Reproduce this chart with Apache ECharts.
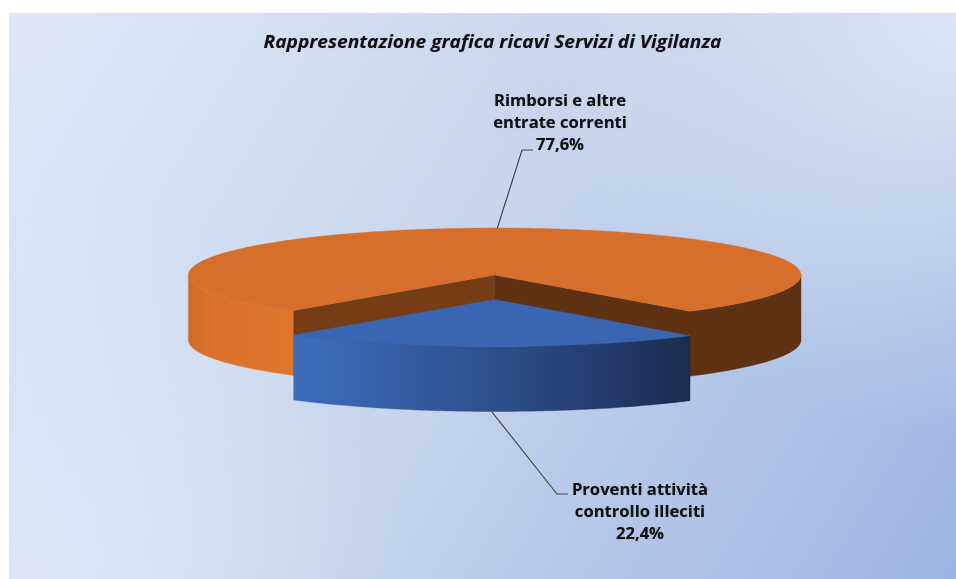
<!DOCTYPE html>
<html><head><meta charset="utf-8">
<style>html,body{margin:0;padding:0;background:#fff}#c{width:956px;height:579px}</style>
<script src="https://cdn.jsdelivr.net/npm/echarts@6/dist/echarts.min.js"></script>
</head><body><div id="c"></div>
<script>
const titleText = 'Rappresentazione grafica ricavi Servizi di Vigilanza';
const categories = ['Rimborsi e altre\nentrate correnti', 'Proventi attività\ncontrollo illeciti'];
const values = [77.6, 22.4];

const FONT = '"Open Sans", "Noto Sans", sans-serif';
const C = {x: 494.7, y: 275, rx: 306.3, ry: 47, depth: 65, explode: 24.5, rot: 0.7};
const total = values.reduce((a, b) => a + b, 0);
const blueSpan = values[1] / total * 360;
const blueStart = 90 + C.rot - blueSpan / 2;   // screen angle, clockwise from +x
const blueEnd = blueStart + blueSpan;
const pt = (a, oy) => [C.x + C.rx * Math.cos(a * Math.PI / 180),
                       C.y + (oy || 0) + C.ry * Math.sin(a * Math.PI / 180)];
function arc(a0, a1, oy) {
  const n = Math.max(2, Math.ceil(Math.abs(a1 - a0) * 1.5)), out = [];
  for (let i = 0; i <= n; i++) out.push(pt(a0 + (a1 - a0) * i / n, oy));
  return out;
}
const grad = (x0, x1, stops) => ({type: 'linear', x: x0, y: 0, x2: x1, y2: 0, global: true,
  colorStops: stops.map(s => ({offset: s[0], color: s[1]}))});
const poly = (points, fill, z) => ({type: 'polygon', shape: {points}, z2: z,
  style: {fill, stroke: fill, lineWidth: 0.4}});
const line = (points, z) => ({type: 'polyline', shape: {points}, z2: z,
  style: {stroke: '#474747', lineWidth: 1.2, fill: null}});
const pct = v => v.toFixed(1).replace('.', ',') + '%';
const label = (text, x, y) => ({type: 'text', z2: 50, style: {
  text, x, y, align: 'center', verticalAlign: 'middle', lineHeight: 22,
  font: 'bold 16.6px ' + FONT, fill: '#111',
  textShadowColor: 'rgba(0,0,0,0.35)', textShadowBlur: 1}});

function renderItem(params, api) {
  const i = params.dataIndex, children = [];
  if (i === 0) {
    const d = C.depth, apex = [C.x, C.y], L = pt(blueEnd), R = pt(blueStart);
    children.push(poly(arc(blueEnd, 180, 0).concat(arc(180, blueEnd, d)), grad(188, 294,
      [[0, '#cf6b29'], [0.25, '#dc722b'], [1, '#e1762d']]), 1));
    children.push(poly(arc(0, blueStart, 0).concat(arc(blueStart, 0, d)), '#5e3112', 1));
    children.push(poly([apex, L, [L[0], L[1] + d], [apex[0], apex[1] + d]], '#763c16', 2));
    children.push(poly([apex, R, [R[0], R[1] + d], [apex[0], apex[1] + d]], '#5e3112', 2));
    children.push(poly([apex].concat(arc(blueEnd, 360 + blueStart, 0)), '#d56f2b', 3));
    children.push(line([pt(270 + 0.5), [522, 150], [533, 150]], 40));
    children.push(label(categories[0] + '\n' + pct(values[0]), 560, 123));
  } else {
    const o = C.explode, d = C.depth;
    children.push(poly(arc(blueStart, blueEnd, o).concat(arc(blueEnd, blueStart, o + d)), grad(293, 691,
      [[0, '#3e6dbc'], [0.5, '#2d4f8d'], [1, '#1a2c50']]), 5));
    children.push(poly([[C.x, C.y + o]].concat(arc(blueStart, blueEnd, o)), '#3a66b1', 6));
    children.push(line([pt(90.6, o + d), [557, 494], [568, 494]], 40));
    children.push(label(categories[1] + '\n' + pct(values[1]), 640, 512));
  }
  return {type: 'group', children};
}

const chart = echarts.init(document.getElementById('c'), null, {renderer: 'canvas'});
const panel = {x: 9, y: 13, width: 947, height: 566};
chart.setOption({
  animation: false,
  graphic: [
    {type: 'rect', z: -3, shape: panel, style: {fill: {type: 'linear', x: 0, y: 0, x2: 1, y2: 1,
      colorStops: [{offset: 0, color: '#e0e8f6'}, {offset: 0.5, color: '#c6d4ed'}, {offset: 1, color: '#9bb5e2'}]}}},
    {type: 'rect', z: -2, shape: panel, style: {fill: {type: 'radial', x: 956, y: 13, r: 420, global: true,
      colorStops: [{offset: 0, color: 'rgba(224,232,246,0.9)'}, {offset: 1, color: 'rgba(224,232,246,0)'}]}}},
    {type: 'rect', z: -2, shape: panel, style: {fill: {type: 'radial', x: 9, y: 579, r: 400, global: true,
      colorStops: [{offset: 0, color: 'rgba(224,232,246,0.9)'}, {offset: 1, color: 'rgba(224,232,246,0)'}]}}},
    {type: 'text', z: 10, x: 492.5, y: 43, scaleX: 1.093, originX: 0, style: {
      text: titleText, x: 0, y: 0, align: 'center', verticalAlign: 'middle',
      font: 'italic bold 17.5px ' + FONT, fill: '#111',
      textShadowColor: 'rgba(0,0,0,0.3)', textShadowBlur: 1}}
  ],
  series: [{type: 'custom', coordinateSystem: 'none', renderItem, silent: true,
    data: values.map((v, i) => ({value: v, name: categories[i]}))}]
});
</script></body></html>
